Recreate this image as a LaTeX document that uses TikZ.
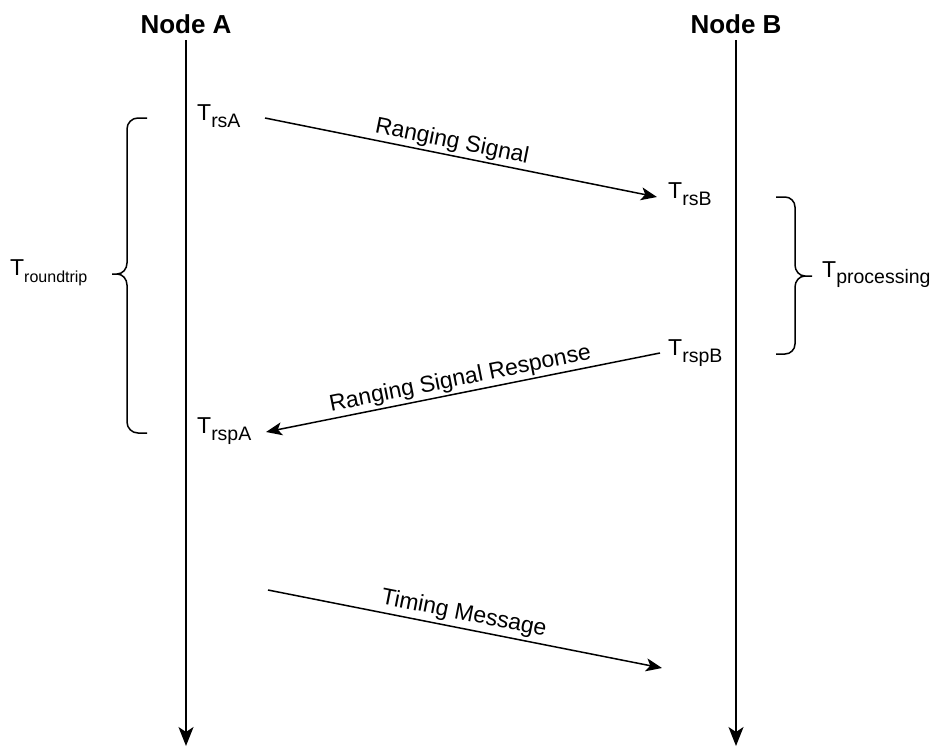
\documentclass[tikz,border=0pt]{standalone}
\usepackage{fontspec}
\setmainfont{Liberation Sans}
\usetikzlibrary{arrows.meta}
\newcommand{\mysub}[3]{T\raisebox{#3}{\fontsize{#2}{#2}\selectfont #1}}
\begin{document}
\begin{tikzpicture}[x=1pt,y=-1pt,
  lbl/.style={inner sep=0pt, anchor=base west, font=\fontsize{23}{23}\selectfont},
  hdr/.style={inner sep=0pt, anchor=base, font=\fontsize{26}{26}\selectfont\bfseries},
  life/.style={line width=1.5pt, -{Stealth[length=19pt,width=15pt,inset=5pt]}},
  msg/.style={line width=1.5pt, -{Stealth[length=16pt,width=13pt,inset=4pt]}},
  mlbl/.style={sloped, above, inner sep=2pt, font=\fontsize{23}{23}\selectfont},
  brace/.style={line width=1.5pt, line join=round}]

\useasboundingbox (0,0) rectangle (934,747);

% headers and lifelines
\node[hdr] (A) at (186,33) {Node A};
\node[hdr] (B) at (736,33) {Node B};
\coordinate (Atop) at (186,40);
\coordinate (Abot) at (186,746);
\coordinate (Btop) at (736,40);
\coordinate (Bbot) at (736,746);
\draw[life] (Atop) -- (Abot);
\draw[life] (Btop) -- (Bbot);

% time labels
\node[lbl] (TrsA)  at (197,120) {\mysub{rsA}{19.5}{-7pt}};
\node[lbl] (TrsB)  at (668,198) {\mysub{rsB}{19.5}{-7pt}};
\node[lbl] (TrspB) at (668,355) {\mysub{rspB}{19.5}{-7pt}};
\node[lbl] (TrspA) at (197,433) {\mysub{rspA}{19.5}{-7pt}};
\node[lbl] (Trt)   at (10,275)  {\mysub{roundtrip}{16}{-7pt}};
\node[lbl] (Tpr)   at (822,277) {\mysub{processing}{19.5}{-6pt}};

% messages
\coordinate (m1s) at (265,118);
\coordinate (m1e) at (657,197);
\coordinate (m2s) at (660,353);
\coordinate (m2e) at (266,432);
\coordinate (m3s) at (268,590);
\coordinate (m3e) at (662,668);
\draw[msg] (m1s) -- node[mlbl, pos=0.47] (L1) {Ranging Signal} (m1e);
\draw[msg] (m2s) -- node[mlbl, pos=0.50] (L2) {Ranging Signal Response} (m2e);
\draw[msg] (m3s) -- node[mlbl, pos=0.49, inner sep=3pt] (L3) {Timing Message} (m3e);

% left brace
\draw[brace] (147,118) -- (138,118) to[out=180,in=90] (127,129) -- (127,263)
  to[out=-90,in=0] (117,274) -- (112,274);
\draw[brace] (117,274) to[out=0,in=90] (127,285) -- (127,422)
  to[out=-90,in=180] (138,433) -- (147,433);

% right brace
\draw[brace] (776,197) -- (785,197) to[out=0,in=90] (795,207) -- (795,265)
  to[out=-90,in=180] (805,276) -- (812,276);
\draw[brace] (805,276) to[out=180,in=90] (795,287) -- (795,344)
  to[out=-90,in=0] (785,354) -- (776,354);
\end{tikzpicture}
\end{document}
